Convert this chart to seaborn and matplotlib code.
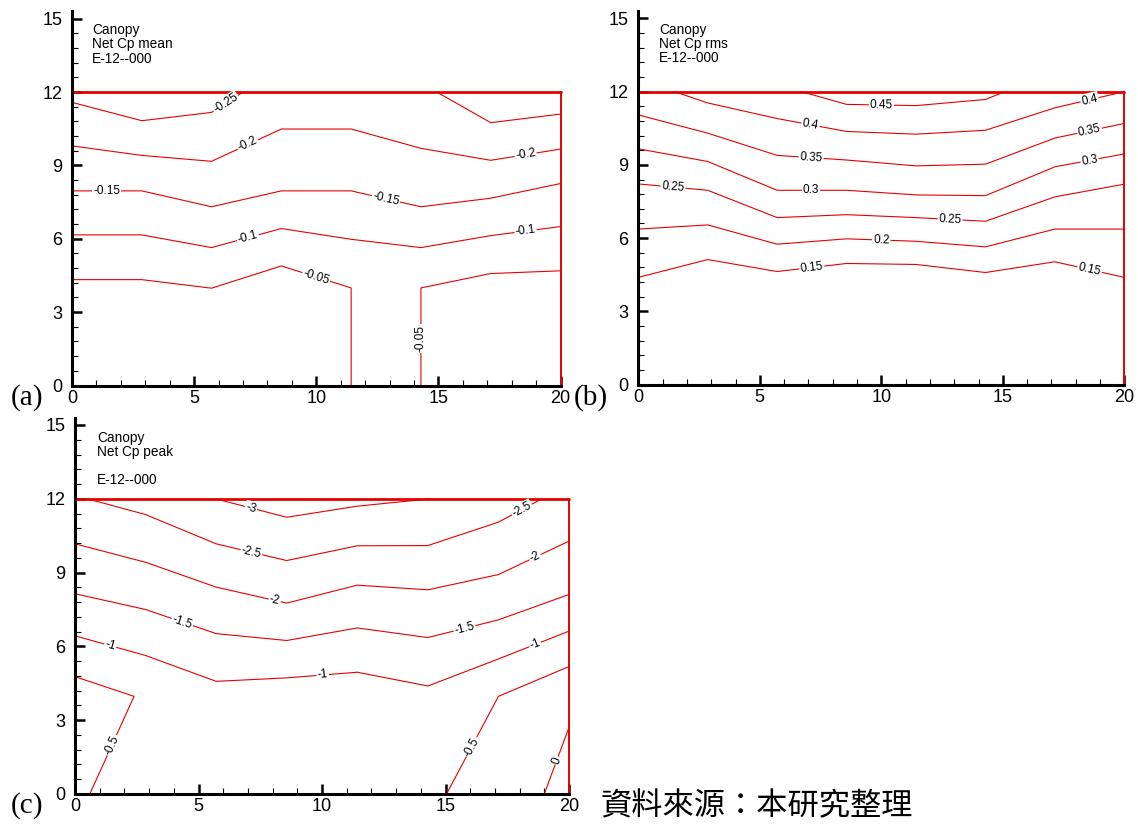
import math
import numpy as np
import pandas as pd
import matplotlib
matplotlib.use("Agg")
import matplotlib.pyplot as plt
import seaborn as sns
from matplotlib.ticker import MultipleLocator

# ---------------- data ----------------
XG = [0.0, 2.857, 5.714, 8.571, 11.429, 14.286, 17.143, 20.0]

# (a) Net Cp mean
mean_m025_a_x = [0.0, 2.857, 5.714, 7.0]
mean_m025_a_y = [11.58, 10.83, 11.17, 12.0]
mean_m025_b_x = [14.94, 17.143, 20.0]
mean_m025_b_y = [12.0, 10.75, 11.10]
mean_m020_y = [9.80, 9.41, 9.17, 10.49, 10.49, 9.70, 9.21, 9.67]
mean_m015_y = [7.96, 7.96, 7.31, 7.96, 7.96, 7.31, 7.66, 8.26]
mean_m010_y = [6.16, 6.16, 5.64, 6.42, 5.98, 5.64, 6.13, 6.50]
mean_m005_a_x = [0.0, 2.857, 5.714, 8.571, 11.429, 11.429]
mean_m005_a_y = [4.33, 4.33, 3.98, 4.89, 3.99, 0.0]
mean_m005_b_x = [14.286, 14.286, 17.143, 20.0]
mean_m005_b_y = [0.0, 3.99, 4.58, 4.69]

# (b) Net Cp rms
rms_045_x = [6.72, 8.571, 11.429, 14.286, 15.07]
rms_045_y = [12.0, 11.48, 11.43, 11.68, 12.0]
rms_040_x = [1.49, 2.857, 5.714, 8.571, 11.429, 14.286, 17.143, 20.0]
rms_040_y = [12.0, 11.54, 10.90, 10.37, 10.26, 10.42, 11.34, 12.0]
rms_035_y = [11.05, 10.30, 9.39, 9.20, 8.96, 9.03, 10.10, 10.70]
rms_030_y = [9.66, 9.14, 7.96, 7.96, 7.77, 7.74, 8.92, 9.45]
rms_025_y = [8.22, 7.96, 6.84, 6.96, 6.84, 6.69, 7.69, 8.21]
rms_020_y = [6.37, 6.54, 5.75, 5.97, 5.87, 5.64, 6.37, 6.37]
rms_015_y = [4.39, 5.12, 4.63, 4.96, 4.92, 4.59, 5.03, 4.39]

# (c) Net Cp peak
peak_m30_x = [5.69, 8.571, 11.429, 14.4]
peak_m30_y = [12.0, 11.25, 11.70, 12.0]
peak_m25_x = [0.5, 2.857, 5.714, 8.571, 11.429, 14.286, 17.143, 18.9]
peak_m25_y = [12.0, 11.36, 10.17, 9.49, 10.09, 10.10, 11.05, 12.0]
peak_m20_y = [10.17, 9.42, 8.41, 7.76, 8.49, 8.30, 8.92, 10.28]
peak_m15_y = [8.14, 7.50, 6.52, 6.24, 6.75, 6.36, 7.08, 8.11]
peak_m10_y = [6.43, 5.63, 4.58, 4.72, 4.95, 4.39, 5.49, 6.62]
peak_m05_a_x = [0.0, 2.39, 0.6]
peak_m05_a_y = [4.77, 3.97, 0.0]
peak_m05_b_x = [15.04, 17.143, 20.0]
peak_m05_b_y = [0.0, 3.97, 5.18]
peak_00_x = [19.0, 20.0]
peak_00_y = [0.0, 2.71]

BOUND_TOP_X = [0.0, 20.0]
BOUND_TOP_Y = [12.0, 12.0]
BOUND_RIGHT_X = [20.0, 20.0]
BOUND_RIGHT_Y = [12.0, 0.0]

PANEL_TITLES = {
    "a": ["Canopy", "Net Cp mean", "E-12--000"],
    "b": ["Canopy", "Net Cp rms", "E-12--000"],
    "c": ["Canopy", "Net Cp peak", "E-12--000"],
}

# contour pieces: (label, xs, ys, label spots (segment index, fraction))
PANEL_A = [
    ("-0.25", mean_m025_a_x, mean_m025_a_y, [(2, 0.45)]),
    ("", mean_m025_b_x, mean_m025_b_y, []),
    ("-0.2", XG, mean_m020_y, [(2, 0.52), (6, 0.5)]),
    ("-0.15", XG, mean_m015_y, [(0, 0.5), (4, 0.5)]),
    ("-0.1", XG, mean_m010_y, [(2, 0.52), (6, 0.5)]),
    ("-0.05", mean_m005_a_x, mean_m005_a_y, [(3, 0.5)]),
    ("-0.05", mean_m005_b_x, mean_m005_b_y, [(0, 0.48)]),
]
PANEL_B = [
    ("0.45", rms_045_x, rms_045_y, [(1, 0.5)]),
    ("0.4", rms_040_x, rms_040_y, [(2, 0.48), (6, 0.5)]),
    ("0.35", XG, rms_035_y, [(2, 0.49), (6, 0.5)]),
    ("0.3", XG, rms_030_y, [(2, 0.49), (6, 0.5)]),
    ("0.25", XG, rms_025_y, [(0, 0.5), (4, 0.49)]),
    ("0.2", XG, rms_020_y, [(3, 0.5)]),
    ("0.15", XG, rms_015_y, [(2, 0.5), (6, 0.5)]),
]
PANEL_C = [
    ("-3", peak_m30_x, peak_m30_y, [(0, 0.5)]),
    ("-2.5", peak_m25_x, peak_m25_y, [(2, 0.5), (6, 0.54)]),
    ("-2", XG, peak_m20_y, [(2, 0.83), (6, 0.52)]),
    ("-1.5", XG, peak_m15_y, [(1, 0.52), (5, 0.52)]),
    ("-1", XG, peak_m10_y, [(0, 0.5), (3, 0.51), (6, 0.52)]),
    ("-0.5", peak_m05_a_x, peak_m05_a_y, [(1, 0.5)]),
    ("-0.5", peak_m05_b_x, peak_m05_b_y, [(0, 0.48)]),
    ("0", peak_00_x, peak_00_y, [(0, 0.5)]),
]

RED = "#e60000"

# ---------------- style ----------------
sns.set_theme(style="ticks")
plt.rcParams["font.family"] = ["Liberation Sans", "DejaVu Sans"]

fig = plt.figure(figsize=(11.38, 8.25), dpi=100)
W, H = 1138.0, 825.0
YMAX = 15.3

def make_axes(left_px, right_px, bottom_px, px_per_unit):
    top_px = bottom_px - YMAX * px_per_unit
    return fig.add_axes([left_px / W, 1 - bottom_px / H,
                         (right_px - left_px) / W, (bottom_px - top_px) / H])

ax_a = make_axes(72, 560.5, 385.5, 24.45)
ax_b = make_axes(638.3, 1124.3, 384.5, 24.4)
ax_c = make_axes(75, 569, 794, 24.6)


def style_axes(ax):
    ax.set_xlim(0, 20)
    ax.set_ylim(0, YMAX)
    ax.set_facecolor("white")
    for s in ("top", "right"):
        ax.spines[s].set_visible(False)
    for s in ("left", "bottom"):
        ax.spines[s].set_color("black")
        ax.spines[s].set_linewidth(2.2)
    ax.xaxis.set_major_locator(MultipleLocator(5))
    ax.xaxis.set_minor_locator(MultipleLocator(1))
    ax.yaxis.set_major_locator(MultipleLocator(3))
    ax.yaxis.set_minor_locator(MultipleLocator(0.6))
    ax.tick_params(which="major", direction="in", length=7, width=1.8,
                   color="black", labelsize=13, labelcolor="black")
    ax.tick_params(which="minor", direction="in", length=4.5, width=0.8,
                   color="black")
    ax.tick_params(axis="y", which="major", pad=7)
    ax.tick_params(axis="x", which="major", pad=3)
    ax.set_xlabel("")
    ax.set_ylabel("")
    ax.grid(False)


def draw_panel(ax, pieces, titles, title_x, title_ys):
    style_axes(ax)
    rows = []
    for i, (lab, xs, ys, spots) in enumerate(pieces):
        for j, (x, y) in enumerate(zip(xs, ys)):
            rows.append({"x": x, "y": y, "piece": i, "order": j})
    df = pd.DataFrame(rows)
    sns.lineplot(data=df, x="x", y="y", units="piece", estimator=None,
                 sort=False, color=RED, linewidth=0.8, ax=ax, legend=False)
    top = pd.DataFrame({"x": BOUND_TOP_X, "y": BOUND_TOP_Y})
    right = pd.DataFrame({"x": BOUND_RIGHT_X, "y": BOUND_RIGHT_Y})
    sns.lineplot(data=top, x="x", y="y", sort=False, estimator=None,
                 color=RED, linewidth=2.0, ax=ax)
    sns.lineplot(data=right, x="x", y="y", sort=False, estimator=None,
                 color=RED, linewidth=1.4, ax=ax)
    for ln in ax.lines:
        ln.set_clip_on(False)
    ax.set_xlim(0, 20)
    ax.set_ylim(0, YMAX)
    ax.set_xlabel("")
    ax.set_ylabel("")

    # contour labels
    for lab, xs, ys, spots in pieces:
        for seg, t in spots:
            x0, y0, x1, y1 = xs[seg], ys[seg], xs[seg + 1], ys[seg + 1]
            x = x0 + t * (x1 - x0)
            y = y0 + t * (y1 - y0)
            p0 = ax.transData.transform((x0, y0))
            p1 = ax.transData.transform((x1, y1))
            ang = math.degrees(math.atan2(p1[1] - p0[1], p1[0] - p0[0]))
            if ang > 90.5:
                ang -= 180
            elif ang < -89.5:
                ang += 180
            ax.text(x, y, lab, rotation=ang, rotation_mode="anchor",
                    ha="center", va="center", fontsize=8.5, color="black",
                    zorder=6,
                    bbox=dict(boxstyle="square,pad=0.08", fc="white",
                              ec="none"))

    for txt, ty in zip(titles, title_ys):
        ax.text(title_x, ty, txt, ha="left", va="center", fontsize=9.8,
                color="black")


draw_panel(ax_a, PANEL_A, PANEL_TITLES["a"], 0.82, [14.53, 13.95, 13.34])
draw_panel(ax_b, PANEL_B, PANEL_TITLES["b"], 0.86, [14.53, 13.95, 13.38])
draw_panel(ax_c, PANEL_C, PANEL_TITLES["c"], 0.89, [14.47, 13.90, 12.76])

# panel letters
for lab, px, py in (("(a)", 27, 398), ("(b)", 591, 398), ("(c)", 27, 806)):
    fig.text(px / W, 1 - py / H, lab, ha="center", va="center",
             fontsize=21, family=["Liberation Serif", "DejaVu Serif"],
             color="black")

fig.text(600 / W, 1 - 806 / H, "資料來源：本研究整理", ha="left", va="center",
         fontsize=22.5, family=["Noto Sans CJK TC", "DejaVu Sans"],
         color="black")

fig.savefig("out.png", dpi=100, facecolor="white")
